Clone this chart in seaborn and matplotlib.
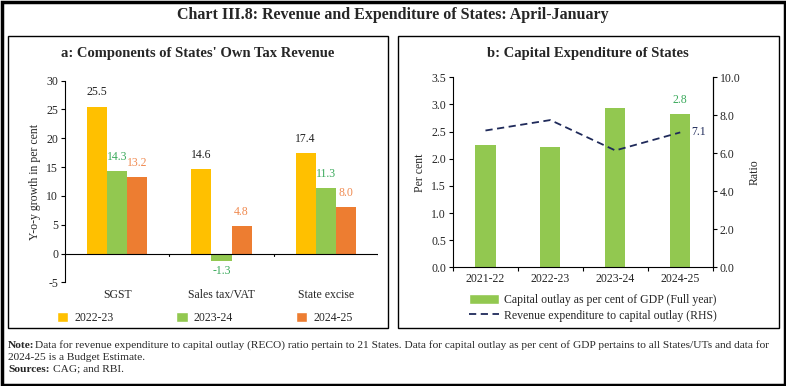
import numpy as np
import pandas as pd
import matplotlib
matplotlib.use("Agg")
import matplotlib.pyplot as plt
from matplotlib.patches import Rectangle, Patch
from matplotlib.lines import Line2D
import seaborn as sns

# panel a data
components = ["SGST", "Sales tax/VAT", "State excise"]
years_a = ["2022-23", "2023-24", "2024-25"]
growth_2223 = [25.5, 14.6, 17.4]
growth_2324 = [14.3, -1.3, 11.3]
growth_2425 = [13.2, 4.8, 8.0]

# panel b data
years_b = ["2021-22", "2022-23", "2023-24", "2024-25"]
capex_gdp = [2.25, 2.21, 2.94, 2.82]
reco_ratio = [7.2, 7.75, 6.15, 7.1]

sns.set_theme(style="white")
plt.rcParams["font.family"] = ["Liberation Serif", "DejaVu Serif"]
plt.rcParams["axes.unicode_minus"] = False

yellow, green, orange = "#FFC000", "#92C850", "#ED7D31"
navy = "#1F2A5A"

fig = plt.figure(figsize=(7.86, 3.86), dpi=100)
W, H = 786, 386


def box(x0, y0, x1, y1, lw=1.0):
    fig.patches.append(Rectangle((x0 / W, 1 - y1 / H), (x1 - x0) / W, (y1 - y0) / H,
                                 transform=fig.transFigure, fill=False,
                                 edgecolor="black", lw=lw))


box(1.5, 1.5, 784.5, 384.5, lw=2.5)
box(8, 36, 388, 328)
box(398, 36, 779, 328)

fig.text(0.5, 1 - 15 / H, "Chart III.8: Revenue and Expenditure of States: April-January",
         ha="center", va="center", fontsize=11.5, fontweight="bold")
fig.text(198 / W, 1 - 53 / H, "a: Components of States' Own Tax Revenue",
         ha="center", va="center", fontsize=10.5, fontweight="bold")
fig.text(588 / W, 1 - 53 / H, "b: Capital Expenditure of States",
         ha="center", va="center", fontsize=10.5, fontweight="bold")

# ---------- panel a ----------
df_a = pd.DataFrame({
    "component": components * 3,
    "year": sum([[y] * 3 for y in years_a], []),
    "value": growth_2223 + growth_2324 + growth_2425,
})
ax1 = fig.add_axes([65 / W, 1 - 282.3 / H, 313 / W, 201.6 / H])
sns.barplot(data=df_a, x="component", y="value", hue="year", hue_order=years_a,
            palette=[yellow, green, orange], width=0.58, ax=ax1, legend=False,
            saturation=1, linewidth=0)
ax1.set_ylim(-5, 30)
ax1.set_xlim(-0.5, 2.5)
ax1.set_yticks(np.arange(-5, 31, 5))
ax1.axhline(0, color="black", lw=0.8)
for b in [0.5, 1.5, 2.5]:
    ax1.plot([b, b], [0, -0.5], color="black", lw=0.8)
for s in ["top", "right", "bottom"]:
    ax1.spines[s].set_visible(False)
ax1.spines["left"].set_color("black")
ax1.spines["left"].set_linewidth(0.8)
ax1.tick_params(axis="y", length=3, width=0.8, color="black", labelsize=8.5, pad=2, left=True)
ax1.tick_params(axis="x", length=0, labelsize=8.5, pad=5)
ax1.set_xlabel("")
ax1.set_ylabel("Y-o-y growth in per cent", fontsize=8.5, labelpad=4)

label_colors = ["#222222", "#3BAA5C", "#F08A50"]
for cont, col in zip(ax1.containers, label_colors):
    for rect in cont:
        h = rect.get_height()
        x = rect.get_x() + rect.get_width() / 2
        if h >= 0:
            ax1.annotate(f"{h:.1f}", (x, h), xytext=(0, 6), textcoords="offset points",
                         ha="center", va="bottom", fontsize=8.5, color=col)
        else:
            ax1.annotate(f"{h:.1f}", (x, h), xytext=(0, -3), textcoords="offset points",
                         ha="center", va="top", fontsize=8.5, color=col)

handles_a = [Patch(facecolor=c, label=y) for c, y in zip([yellow, green, orange], years_a)]
fig.legend(handles=handles_a, loc="center left", ncol=3, frameon=False,
           bbox_to_anchor=(46 / W, 1 - 318 / H), fontsize=8.5, handlelength=1.0,
           handleheight=0.9, columnspacing=5.3, handletextpad=0.5)

# ---------- panel b ----------
ax2 = fig.add_axes([453 / W, 1 - 267.3 / H, 259.7 / W, 190 / H])
sns.barplot(x=years_b, y=capex_gdp, color=green, saturation=1, width=0.31, ax=ax2,
            linewidth=0)
ax2.set_ylim(0, 3.5)
ax2.set_yticks(np.arange(0, 3.51, 0.5))
ax2.set_yticklabels([f"{v:.1f}" for v in np.arange(0, 3.51, 0.5)])
ax2.set_xlim(-0.5, 3.5)
ax2.set_xticks(np.arange(-0.5, 3.6, 1), minor=True)
ax2.tick_params(axis="x", which="major", length=0, labelsize=8.5, pad=4)
ax2.tick_params(axis="x", which="minor", length=3, width=0.8, color="black", bottom=True)
ax2.tick_params(axis="y", length=3, width=0.8, color="black", labelsize=8.5, pad=2, left=True)
ax2.set_ylabel("Per cent", fontsize=8.5, labelpad=4)
ax2.spines["top"].set_visible(False)
for s in ["left", "bottom", "right"]:
    ax2.spines[s].set_color("black")
    ax2.spines[s].set_linewidth(0.8)
ax2.annotate(f"{capex_gdp[-1]:.1f}", (3, capex_gdp[-1]), xytext=(0, 6),
             textcoords="offset points", ha="center", va="bottom", fontsize=8.5, color="#3BAA5C")

ax3 = ax2.twinx()
sns.lineplot(x=np.arange(len(years_b)), y=reco_ratio, ax=ax3, color=navy,
             lw=1.3, linestyle=(0, (4, 2.5)))
ax3.set_ylim(0, 10)
ax3.set_yticks(np.arange(0, 10.1, 2))
ax3.set_yticklabels([f"{v:.1f}" for v in np.arange(0, 10.1, 2)])
ax3.tick_params(axis="y", length=3, width=0.8, color="black", labelsize=8.5, pad=2, right=True)
ax3.set_ylabel("Ratio", fontsize=8.5, labelpad=6)
for s in ["top", "left", "bottom"]:
    ax3.spines[s].set_visible(False)
ax3.spines["right"].set_color("black")
ax3.spines["right"].set_linewidth(0.8)
ax3.grid(False)
ax3.annotate(f"{reco_ratio[-1]:.1f}", (3, reco_ratio[-1]), xytext=(8, 0),
             textcoords="offset points", ha="left", va="center", fontsize=8.5, color=navy)

handles_b = [Patch(facecolor=green, label="Capital outlay as per cent of GDP (Full year)"),
             Line2D([0], [0], color=navy, lw=1.3, linestyle=(0, (4, 2.5)),
                    label="Revenue expenditure to capital outlay (RHS)")]
fig.legend(handles=handles_b, loc="center left", frameon=False,
           bbox_to_anchor=(458 / W, 1 - 308 / H), fontsize=8.5, handlelength=2.6,
           handleheight=0.9, handletextpad=0.4, labelspacing=0.3)

# ---------- notes ----------
fs = 8.2
fig.text(8 / W, 1 - 345 / H, "Note:", fontsize=fs, fontweight="bold", va="center", ha="left")
fig.text(35 / W, 1 - 345 / H, "Data for revenue expenditure to capital outlay (RECO) ratio pertain to 21 States. "
         "Data for capital outlay as per cent of GDP pertains to all States/UTs and data for",
         fontsize=fs, va="center", ha="left")
fig.text(8 / W, 1 - 357 / H, "2024-25 is a Budget Estimate.", fontsize=fs, va="center", ha="left")
fig.text(8 / W, 1 - 369 / H, "Sources:", fontsize=fs, fontweight="bold", va="center", ha="left")
fig.text(53 / W, 1 - 369 / H, "CAG; and RBI.", fontsize=fs, va="center", ha="left")

fig.savefig("out.png", dpi=100)
